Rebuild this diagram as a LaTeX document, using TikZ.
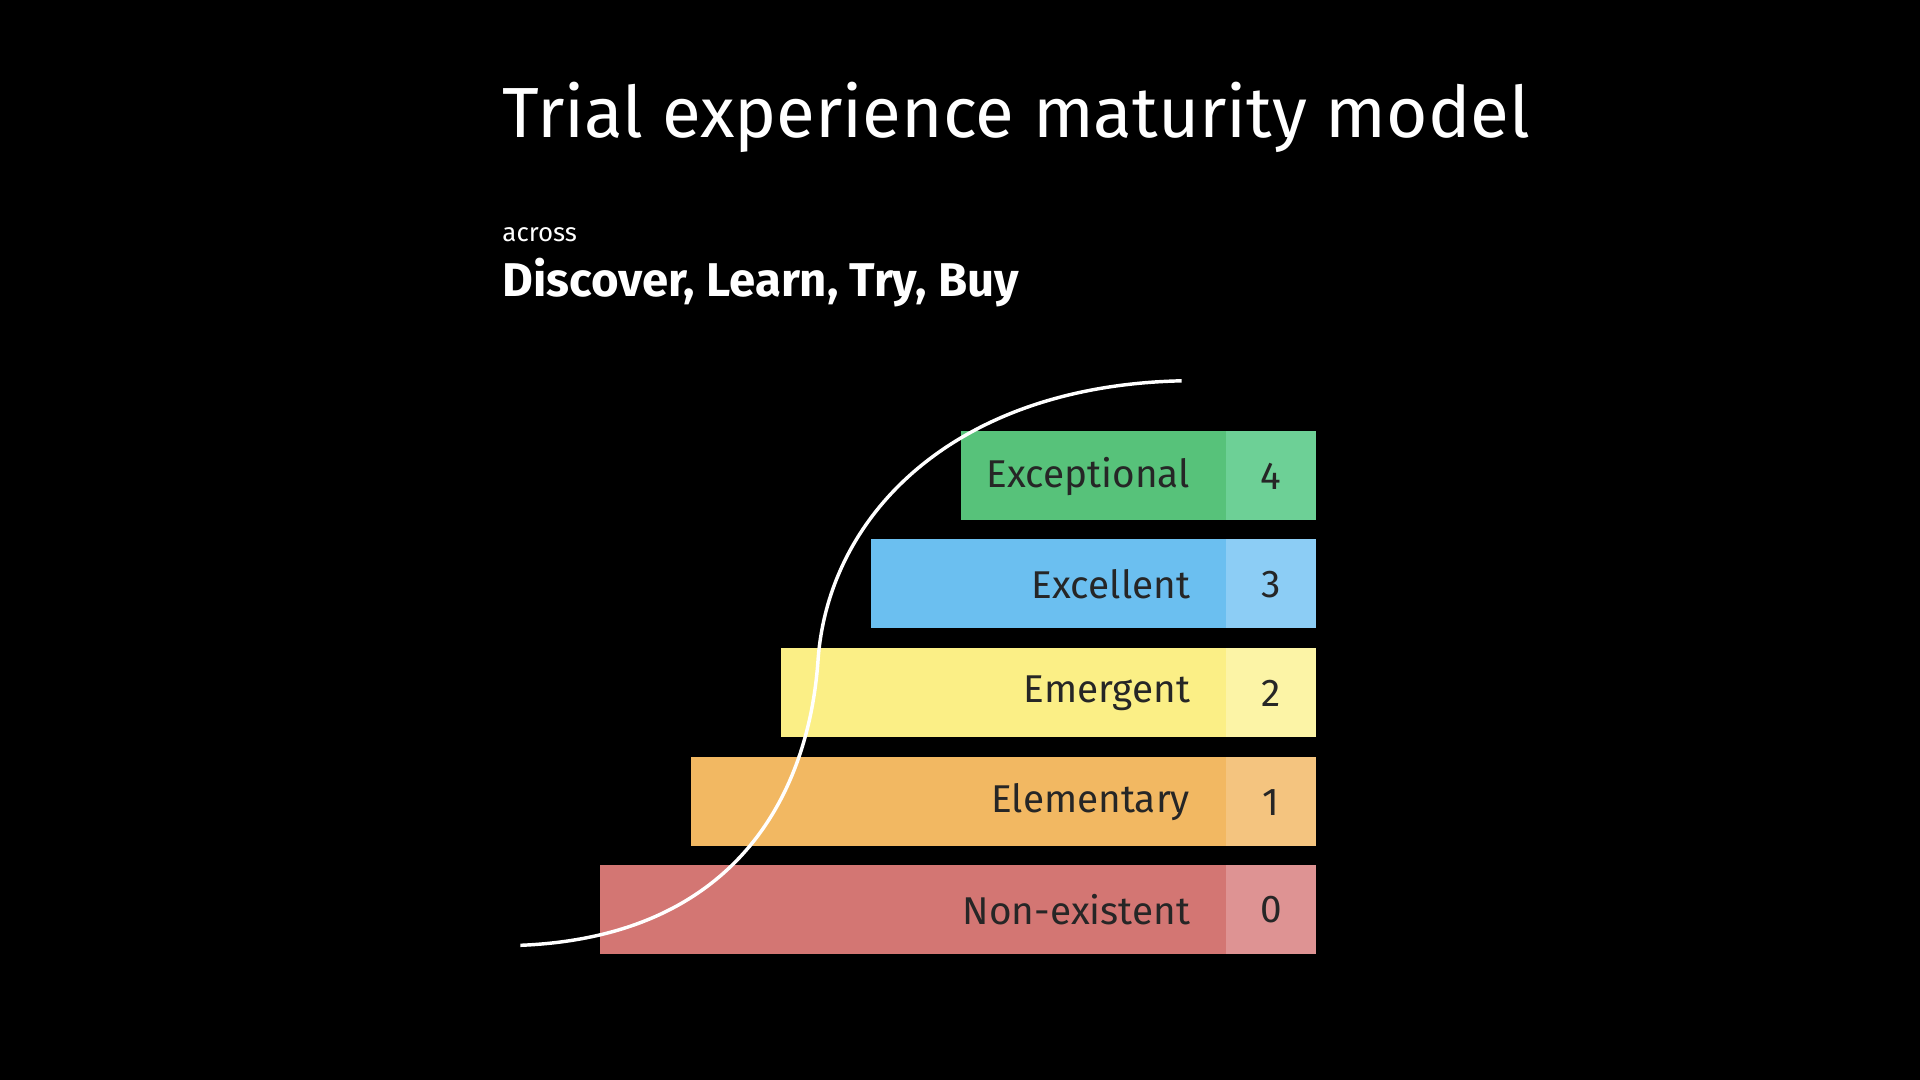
\documentclass[tikz,border=0pt]{standalone}
\usepackage{fontspec}
\setmainfont{Fira Sans}
\usetikzlibrary{positioning}
\definecolor{gExc}{HTML}{57C27A}\definecolor{gExcL}{HTML}{6DD096}
\definecolor{bExc}{HTML}{6BBFF0}\definecolor{bExcL}{HTML}{8CCDF5}
\definecolor{yEme}{HTML}{FBEF86}\definecolor{yEmeL}{HTML}{FCF4A6}
\definecolor{oEle}{HTML}{F2B862}\definecolor{oEleL}{HTML}{F4C47F}
\definecolor{rNon}{HTML}{D37673}\definecolor{rNonL}{HTML}{DE9393}
\tikzset{
    px/.style={x=0.02cm,y=-0.02cm},
    barlabel/.style={anchor=east, font=\fontsize{18}{20}\selectfont, text=black!85},
    barnum/.style={font=\fontsize{18}{20}\selectfont, text=black!85},
}
\begin{document}
\begin{tikzpicture}[px]
\fill[black] (0,0) rectangle (1568,882);
\useasboundingbox (0,0) rectangle (1568,882);
% heading
\node[anchor=base west, text=white, font=\fontsize{33}{36}\selectfont, inner sep=0] (title) at (410,112) {Trial experience maturity model};
\node[anchor=base west, text=white, font=\fontsize{12}{14}\selectfont, inner sep=0] (across) at (410,197) {across};
\node[anchor=base west, text=white, font=\bfseries\fontsize{22}{26}\selectfont, inner sep=0] (phases) at (410,242) {Discover, Learn, Try, Buy};
% bars
\foreach \name/\left/\top/\col/\txt/\num in {
    exc/785/352/gExc/Exceptional/4,
    xl/711/440/bExc/Excellent/3,
    eme/638/529/yEme/Emergent/2,
    ele/564/618/oEle/Elementary/1,
    non/490/706/rNon/Non-existent/0}{
    \fill[\col] (\left,\top) rectangle (1001,\top+73);
    \fill[\col L] (1001,\top) rectangle (1075,\top+73);
    \node[barlabel] (\name) at (978,\top+37) {\txt};
    \node[barnum] (\name-n) at (1038,\top+37) {\num};
}
% maturity curve
\draw[white, line width=1.6pt] (425,772) .. controls (600,765) and (660,650) .. (668,540)
    .. controls (676,420) and (780,315) .. (965,311);
\end{tikzpicture}
\end{document}
